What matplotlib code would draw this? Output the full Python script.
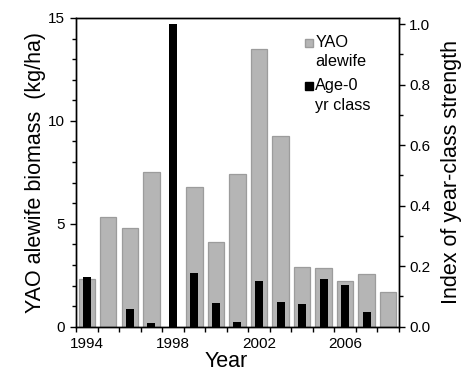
import numpy as np
import matplotlib
matplotlib.use("Agg")
import matplotlib.pyplot as plt

plt.rcParams['font.family'] = ['Liberation Sans', 'DejaVu Sans']

years = np.arange(1994, 2009)
# YAO alewife biomass (kg/ha), no value for 1998
yao_biomass = [2.33, 5.31, 4.79, 7.51, np.nan, 6.80, 4.11, 7.41,
               13.51, 9.26, 2.91, 2.85, 2.23, 2.56, 1.70]
# index of year-class strength for age-0, no value for 2008
age0_index = [0.165, 0.0, 0.057, 0.013, 1.0, 0.178, 0.079, 0.015,
              0.152, 0.082, 0.075, 0.159, 0.137, 0.049, np.nan]
year_labels = [1994, 1998, 2002, 2006]

fig = plt.figure(figsize=(4.62, 3.74), dpi=100)
ax = fig.add_axes([0.1645, 0.1265, 0.699, 0.8254])

ax.bar(years, yao_biomass, width=0.76, color='#b5b5b5', edgecolor='#9c9c9c', linewidth=0.9)
ax.set_xlim(1993.5, 2008.5)
ax.set_ylim(0, 15)
ax.set_yticks([0, 5, 10, 15])
ax.set_yticks(np.arange(0, 16, 1), minor=True)
ax.set_xticks(year_labels)
ax.set_xticks(np.arange(1993.5, 2009, 1), minor=True)
ax.tick_params(axis='x', which='major', length=0, pad=7.5, labelsize=11)
ax.tick_params(axis='x', which='minor', length=3.5, width=1, direction='out')
ax.tick_params(axis='y', which='major', length=4.2, width=1, pad=3.5, labelsize=11)
ax.tick_params(axis='y', which='minor', length=2.7, width=1)
ax.set_xlabel('Year', fontsize=15.5, labelpad=0, x=0.464)
ax.set_ylabel('YAO alewife biomass  (kg/ha)', fontsize=15.5, labelpad=2)
for s in ax.spines.values():
    s.set_linewidth(1)

ax2 = ax.twinx()
ax2.bar(years, age0_index, width=0.37, color='black')
ax2.set_ylim(0, 1.02)
ax2.set_yticks(np.arange(0, 1.01, 0.2))
ax2.set_yticks(np.arange(0, 1.01, 0.1), minor=True)
ax2.set_yticklabels(['%.1f' % v for v in np.arange(0, 1.01, 0.2)])
ax2.tick_params(axis='y', which='major', length=4.2, width=1, pad=3, labelsize=11)
ax2.tick_params(axis='y', which='minor', length=2.7, width=1)
ax2.set_ylabel('Index of year-class strength', fontsize=15.5, labelpad=8)
for s in ax2.spines.values():
    s.set_linewidth(1)

# legend drawn by hand so the square sits on the first line
ax2.plot([0.722], [0.92], 's', ms=5.5, color='#b5b5b5', mec='#9c9c9c', transform=ax2.transAxes, clip_on=False)
ax2.plot([0.722], [0.78], 's', ms=5.5, color='black', transform=ax2.transAxes, clip_on=False)
for txt, yy in [('YAO', 0.92), ('alewife', 0.858), ('Age-0', 0.78), ('yr class', 0.718)]:
    ax2.text(0.741, yy, txt, transform=ax2.transAxes, fontsize=11.7, va='center', ha='left')

fig.savefig('out.png', dpi=100)
